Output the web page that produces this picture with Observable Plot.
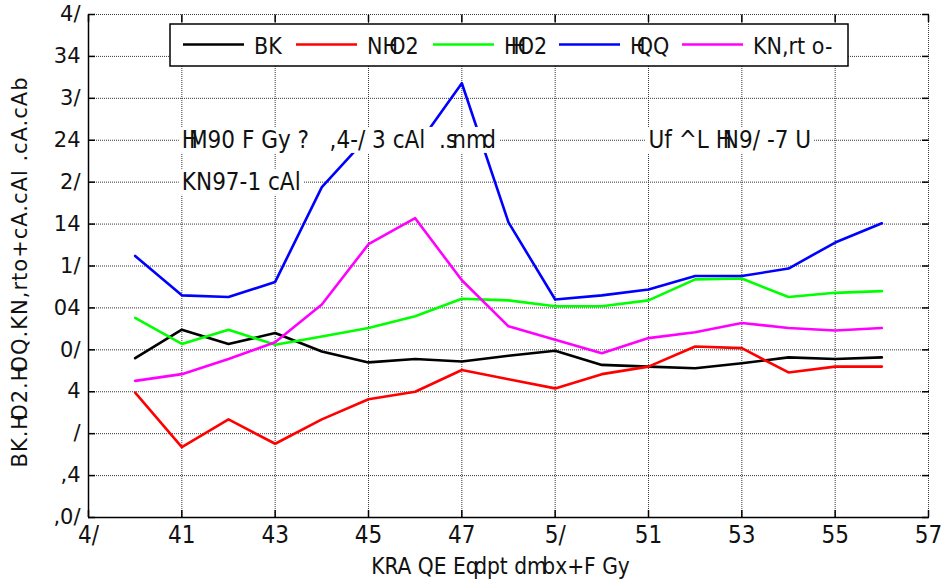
<!DOCTYPE html>
<html><head><meta charset="utf-8">
<script src="https://cdn.jsdelivr.net/npm/d3@7"></script>
<script src="https://cdn.jsdelivr.net/npm/@observablehq/plot@0.6"></script>
<style>
body{margin:0;background:#fff;}
#chart{position:relative;width:942px;height:582px;}
</style></head><body><div id="chart"></div>
<script>
// ---- data ----
const xValues = [51,52,53,54,55,56,57,58,59,60,61,62,63,64,65,66,67];
const seriesNames = ["BK","NHO2","HHO2","HQQ","KN,rt o-"];
const seriesColors = ["#000000","#ff0000","#00ff00","#0000ff","#ff00ff"];
const blackValues   = [9.0,12.4,10.7,12.0,9.8,8.5,8.9,8.6,9.3,9.9,8.2,8.0,7.8,8.4,9.1,8.9,9.1];
const redValues     = [4.9,-1.6,1.7,-1.2,1.7,4.1,5.0,7.6,6.5,5.4,7.1,8.0,10.4,10.2,7.3,8.0,8.0];
const greenValues   = [13.8,10.7,12.4,10.6,11.6,12.6,14.0,16.1,15.9,15.2,15.2,15.9,18.4,18.5,16.3,16.8,17.0];
const blueValues    = [21.2,16.5,16.3,18.1,29.4,35.5,34.0,41.8,25.2,16.0,16.5,17.2,18.8,18.8,19.7,22.8,25.1];
const magentaValues = [6.3,7.1,8.9,10.9,15.4,22.6,25.7,18.3,12.8,11.2,9.6,11.4,12.1,13.2,12.6,12.3,12.6];
const seriesValues = [blackValues, redValues, greenValues, blueValues, magentaValues];

const xTicks = [50,52,54,56,58,60,62,64,66,68];
const xTickLabels = ["4/","41","43","45","47","5/","51","53","55","57"];
const yTicks = [-10,-5,0,5,10,15,20,25,30,35,40,45,50];
const yTickLabels = [",0/",",4","/","4","0/","04","1/","14","2/","24","3/","34","4/"];
const xLabel = "KRA QE Eqdpt dmbx+F Gy";
const yLabel = "BK.HO2.HOQ.KN,rto+cA.cAl .cA.cAb";
const noteTexts = ["HM90 F Gy ?   ,4-/ 3 cAl  .snmd", "KN97-1 cAl", "Uf ^L HN9/ -7 U"];
const noteX = [52, 52, 62];
const noteY = [35, 30, 35];
const overlapUpper = ["HO","HH","HQ","HM","HN"];
const overlapLower = ["sn","md","qd","mb"];

// ---- build ----
const rows = [];
seriesValues.forEach((vals, s) => vals.forEach((v, i) => rows.push({x: xValues[i], v, s: seriesNames[s]})));
const notes = noteTexts.map((t, i) => ({t, x: noteX[i], y: noteY[i]}));
const fmt = (ticks, labels) => d => { const i = ticks.indexOf(d); return i >= 0 ? labels[i] : ""; };
const gridStyle = {stroke: "#222", strokeOpacity: 0.9, strokeWidth: 1, strokeDasharray: "1,1"};
const cond = "DejaVu Sans Condensed";

const plot = Plot.plot({
  width: 942, height: 582,
  marginLeft: 88, marginRight: 14, marginTop: 14, marginBottom: 65,
  style: {fontFamily: "DejaVu Sans", background: "white", overflow: "visible"},
  x: {domain: [50, 68]},
  y: {domain: [-10, 50]},
  color: {domain: seriesNames, range: seriesColors},
  marks: [
    Plot.gridX(xTicks, gridStyle),
    Plot.gridY(yTicks, gridStyle),
    Plot.axisX(xTicks, {anchor: "bottom", tickSize: -7, fill: "none", label: null, strokeWidth: 1.5}),
    Plot.axisX(xTicks, {anchor: "top", tickSize: -7, fill: "none", label: null, strokeWidth: 1.5}),
    Plot.axisY(yTicks, {anchor: "left", tickSize: -7, fill: "none", label: null, strokeWidth: 1.5}),
    Plot.axisY(yTicks, {anchor: "right", tickSize: -7, fill: "none", label: null, strokeWidth: 1.5}),
    Plot.axisX(xTicks, {anchor: "bottom", tickSize: 0, tickPadding: 8, label: null, tickFormat: fmt(xTicks, xTickLabels), fontSize: 24, fontFamily: cond, fill: "#111"}),
    Plot.axisY(yTicks, {anchor: "left", tickSize: 0, tickPadding: 8, label: null, tickFormat: fmt(yTicks, yTickLabels), fontSize: 21, fontFamily: "DejaVu Sans", fill: "#111"}),
    Plot.ruleX([50], {stroke: "black", strokeWidth: 1.5}),
    Plot.ruleY([-10], {stroke: "black", strokeWidth: 1.5}),
    Plot.line(rows, {x: "x", y: "v", z: "s", stroke: "s", strokeWidth: 2.6}),
    Plot.text(notes, {x: "x", y: "y", text: "t", textAnchor: "start", fontSize: 24, fontFamily: cond, fill: "#111"}),
    Plot.text([xLabel], {frameAnchor: "bottom", textAnchor: "middle", dx: -8, dy: 56, fontSize: 22.5, fontFamily: cond, fill: "#111"}),
    Plot.text([yLabel], {frameAnchor: "left", textAnchor: "middle", rotate: -90, dx: -68, dy: 6, fontSize: 21, fontFamily: "DejaVu Sans", fill: "#111"})
  ]
});
document.getElementById("chart").appendChild(plot);

const ns = "http://www.w3.org/2000/svg";
function kern(el) {
  const s = el.textContent;
  const hit = p => s.includes(p);
  if (!overlapUpper.some(hit) && !overlapLower.some(hit)) return;
  const fs = parseFloat(getComputedStyle(el).fontSize) || 20;
  el.textContent = "";
  let seg = "", dx = 0;
  const flush = () => {
    if (seg) {
      const t = document.createElementNS(ns, "tspan");
      t.textContent = seg;
      if (dx) t.setAttribute("dx", dx);
      el.appendChild(t);
    }
    seg = ""; dx = 0;
  };
  for (let i = 0; i < s.length; i++) {
    const pair = i > 0 ? s[i-1] + s[i] : "";
    if (overlapUpper.includes(pair)) { flush(); dx = -0.38 * fs; }
    else if (overlapLower.includes(pair)) { flush(); dx = -0.2 * fs; }
    seg += s[i];
  }
  flush();
}
const svg = d3.select(plot);
const noteEls = [];
svg.selectAll("text").each(function() {
  if (noteTexts.includes(this.textContent)) noteEls.push(this);
  if (this.textContent === yLabel) this.setAttribute("letter-spacing", "1");
});
svg.selectAll("text").each(function() { kern(this); });

// white boxes behind annotations
noteEls.forEach(t => {
  const b = t.getBBox();
  const tr = t.getAttribute("transform");
  const r = document.createElementNS(ns, "rect");
  r.setAttribute("x", b.x - 3); r.setAttribute("y", b.y + 1);
  r.setAttribute("width", b.width + 6); r.setAttribute("height", b.height - 2);
  r.setAttribute("fill", "white");
  r.setAttribute("stroke", "none");
  if (tr) r.setAttribute("transform", tr);
  t.parentNode.insertBefore(r, t);
});

// legend (layout: box and item start positions)
const legendBox = {x: 170, y: 24, w: 678, h: 42};
const legendItemX = [183, 296, 433, 559, 682];
const lg = svg.append("g").attr("text-anchor", "start");
lg.append("rect").attr("x", legendBox.x).attr("y", legendBox.y).attr("width", legendBox.w).attr("height", legendBox.h)
  .attr("fill", "white").attr("stroke", "black").attr("stroke-width", 1.5);
const midY = legendBox.y + legendBox.h / 2;
seriesNames.forEach((n, i) => {
  const cx = legendItemX[i];
  lg.append("line").attr("x1", cx).attr("x2", cx + 61).attr("y1", midY - 0.5).attr("y2", midY - 0.5)
    .attr("stroke", seriesColors[i]).attr("stroke-width", 2.6);
  const t = lg.append("text").attr("x", cx + 71).attr("y", midY + 1).attr("dy", "0.35em")
    .attr("text-anchor", "start")
    .attr("font-size", 23).attr("font-family", cond).attr("fill", "#111").text(n);
  kern(t.node());
});
</script></body></html>
